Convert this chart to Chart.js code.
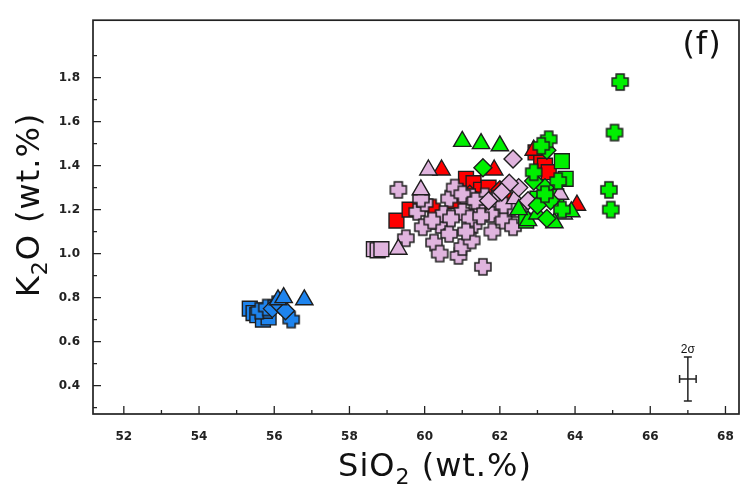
<!DOCTYPE html>
<html>
<head>
<meta charset="utf-8">
<script src="https://cdn.jsdelivr.net/npm/chart.js@4.4.0/dist/chart.umd.min.js"></script>
<style>
  html, body { margin: 0; padding: 0; background: #fff; }
  canvas { display: block; }
</style>
</head>
<body>
<canvas id="chart" width="753" height="492"></canvas>
<script>
// K2O vs SiO2, panel (f)

// tick values
const xTicks = [52, 54, 56, 58, 60, 62, 64, 66, 68];
const yTicks = [0.4, 0.6, 0.8, 1.0, 1.2, 1.4, 1.6, 1.8];

// [SiO2, K2O] points, one list per group and symbol
const blueSquares   = [[55.35, 0.75], [55.45, 0.73], [55.55, 0.72], [55.7, 0.70], [55.85, 0.71], [55.75, 0.74]];
const blueCrosses   = [[55.6, 0.74], [55.8, 0.755], [56.05, 0.77], [56.45, 0.70]];
const blueDiamonds  = [[55.95, 0.75], [56.15, 0.765], [56.3, 0.74]];
const blueTriangles = [[56.1, 0.79], [56.25, 0.80], [56.8, 0.79]];

const redSquares   = [[59.25, 1.15], [59.6, 1.20], [61.1, 1.34], [61.3, 1.32], [61.5, 1.29], [60.8, 1.24],
                      [61.7, 1.30], [62.95, 1.46], [63.1, 1.43], [63.2, 1.40], [63.3, 1.37]];
const redTriangles = [[60.45, 1.38], [61.85, 1.38], [64.05, 1.22], [62.9, 1.47]];
const redCrosses   = [[60.2, 1.21], [60.9, 1.28], [61.6, 1.21], [62.2, 1.25]];
const redDiamonds  = [[62.0, 1.29], [61.2, 1.27]];

const greenSquares   = [[63.65, 1.42], [63.75, 1.34], [62.7, 1.15], [63.5, 1.26], [63.0, 1.25]];
const greenTriangles = [[61.0, 1.51], [61.5, 1.50], [62.0, 1.49], [62.75, 1.15], [63.45, 1.14],
                        [63.0, 1.18], [62.5, 1.20], [63.9, 1.19]];
const greenDiamonds  = [[61.55, 1.39], [63.25, 1.47], [63.2, 1.30], [63.35, 1.24], [63.25, 1.16],
                        [62.9, 1.33], [63.0, 1.22]];
const greenCrosses   = [[65.2, 1.78], [65.05, 1.55], [64.9, 1.29], [64.95, 1.20], [63.3, 1.52],
                        [63.1, 1.49], [62.9, 1.37], [63.55, 1.33], [63.65, 1.20], [63.2, 1.27]];

const pinkSquares   = [[58.65, 1.02], [58.75, 1.015], [58.85, 1.02], [61.15, 1.26], [62.5, 1.20]];
const pinkTriangles = [[60.1, 1.38], [59.9, 1.29], [59.3, 1.02], [63.6, 1.27], [63.7, 1.18], [62.4, 1.25]];
const pinkCrosses   = [[59.3, 1.29], [59.8, 1.19], [59.95, 1.12], [59.5, 1.07], [60.4, 1.13],
                       [60.65, 1.09], [60.25, 1.05], [60.9, 0.99], [61.0, 1.03], [60.65, 1.25],
                       [60.8, 1.30], [61.0, 1.19], [61.3, 1.13], [61.25, 1.06], [61.55, 0.94],
                       [61.4, 1.22], [61.75, 1.18], [62.3, 1.21], [60.0, 1.23], [61.2, 1.16],
                       [60.5, 1.18], [61.8, 1.10], [60.4, 1.00], [61.6, 1.26], [62.1, 1.15],
                       [61.0, 1.27], [61.35, 1.24], [61.9, 1.25], [62.1, 1.22], [61.5, 1.17],
                       [60.2, 1.15], [59.9, 1.25], [61.1, 1.10], [60.7, 1.16], [62.35, 1.12]];
const pinkDiamonds  = [[62.35, 1.43], [62.5, 1.30], [62.25, 1.32], [62.75, 1.24], [62.05, 1.28],
                       [61.7, 1.24]];

// 2 sigma error bar
const errX = 67.0, errY = 0.43, errDx = 0.22, errDy = 0.10;

const BLUE = '#1e84ee', RED = '#ff0000', GREEN = '#00f000', PINK = '#e0b4de';
const EDGE = '#1e1e1e';
const TITLE_FONT = '32px "DejaVu Sans", sans-serif';
const SUB_FONT = '22px "DejaVu Sans", sans-serif';
const TICK_FONT = { family: '"DejaVu Sans", sans-serif', size: 12, weight: 'bold' };

function makePlus(fill, size) {
  const c = document.createElement('canvas');
  const s = size + 4;
  c.width = s; c.height = s;
  const g = c.getContext('2d');
  const m = s / 2, h = size / 2, a = size * 0.25;
  g.beginPath();
  g.moveTo(m - a, m - h); g.lineTo(m + a, m - h); g.lineTo(m + a, m - a);
  g.lineTo(m + h, m - a); g.lineTo(m + h, m + a); g.lineTo(m + a, m + a);
  g.lineTo(m + a, m + h); g.lineTo(m - a, m + h); g.lineTo(m - a, m + a);
  g.lineTo(m - h, m + a); g.lineTo(m - h, m - a); g.lineTo(m - a, m - a);
  g.closePath();
  g.fillStyle = fill; g.fill();
  g.lineWidth = 1.5; g.strokeStyle = EDGE; g.stroke();
  return c;
}

function ds(label, pts, color, style) {
  const radius = { rect: 10.5, triangle: 10, rectRot: 9 }[style] || 9;
  return {
    label: label,
    data: pts.map(p => ({ x: p[0], y: p[1] })),
    pointStyle: style === 'plus' ? makePlus(color, 16) : style,
    pointRadius: radius,
    pointHoverRadius: radius,
    backgroundColor: color,
    borderColor: EDGE,
    borderWidth: 1.4
  };
}

const frameAndTicks = {
  id: 'frameAndTicks',
  afterDatasetsDraw(chart) {
    const { ctx, chartArea: a, scales: { x, y } } = chart;
    ctx.save();
    ctx.strokeStyle = '#222';
    ctx.lineWidth = 1.3;
    ctx.beginPath();
    for (let v = 52; v <= 68; v++) {
      const px = x.getPixelForValue(v);
      const len = v % 2 === 0 ? 8 : 4;
      ctx.moveTo(px, a.bottom); ctx.lineTo(px, a.bottom - len);
    }
    for (let i = 3; i <= 19; i++) {
      const py = y.getPixelForValue(i / 10);
      const len = i % 2 === 0 ? 8 : 4;
      ctx.moveTo(a.left, py); ctx.lineTo(a.left + len, py);
    }
    ctx.stroke();
    ctx.lineWidth = 1.7;
    ctx.strokeRect(a.left, a.top, a.right - a.left, a.bottom - a.top);

    // error bar
    const cx = x.getPixelForValue(errX), cy = y.getPixelForValue(errY);
    const x0 = x.getPixelForValue(errX - errDx), x1 = x.getPixelForValue(errX + errDx);
    const y0 = y.getPixelForValue(errY + errDy), y1 = y.getPixelForValue(errY - errDy);
    ctx.lineWidth = 1.5;
    ctx.beginPath();
    ctx.moveTo(cx, y0); ctx.lineTo(cx, y1);
    ctx.moveTo(cx - 4, y0); ctx.lineTo(cx + 4, y0);
    ctx.moveTo(cx - 4, y1); ctx.lineTo(cx + 4, y1);
    ctx.moveTo(x0, cy); ctx.lineTo(x1, cy);
    ctx.moveTo(x0, cy - 4); ctx.lineTo(x0, cy + 4);
    ctx.moveTo(x1, cy - 4); ctx.lineTo(x1, cy + 4);
    ctx.stroke();
    ctx.fillStyle = '#111';
    ctx.font = '12px "Liberation Sans", Arial, sans-serif';
    ctx.textAlign = 'center';
    ctx.textBaseline = 'bottom';
    ctx.fillText('2σ', cx, y0 - 1);

    // panel label
    ctx.letterSpacing = '1px';
    ctx.font = TITLE_FONT;
    ctx.textBaseline = 'middle';
    ctx.fillText('(f)', 702, 46);

    // axis titles with subscripts
    function titled(parts, cxp, cyp) {
      ctx.textAlign = 'left';
      ctx.textBaseline = 'alphabetic';
      let w = 0;
      parts.forEach(p => { ctx.font = p.sub ? SUB_FONT : TITLE_FONT; w += ctx.measureText(p.t).width; });
      let px = cxp - w / 2;
      parts.forEach(p => {
        ctx.font = p.sub ? SUB_FONT : TITLE_FONT;
        ctx.fillText(p.t, px, cyp + (p.sub ? 8 : 0));
        px += ctx.measureText(p.t).width;
      });
    }
    titled([{ t: 'SiO' }, { t: '2', sub: true }, { t: ' (wt.%)' }], 435, 476);
    ctx.save();
    ctx.translate(39, 205);
    ctx.rotate(-Math.PI / 2);
    titled([{ t: 'K' }, { t: '2', sub: true }, { t: 'O (wt.%)' }], 0, 0);
    ctx.restore();
    ctx.restore();
  }
};

// Chart.js paints dataset 0 last, so the top layer comes first here
new Chart(document.getElementById('chart').getContext('2d'), {
  type: 'scatter',
  data: {
    datasets: [
      ds('blue triangles', blueTriangles, BLUE, 'triangle'),
      ds('blue diamonds', blueDiamonds, BLUE, 'rectRot'),
      ds('blue crosses', blueCrosses, BLUE, 'plus'),
      ds('blue squares', blueSquares, BLUE, 'rect'),
      ds('green crosses', greenCrosses, GREEN, 'plus'),
      ds('green diamonds', greenDiamonds, GREEN, 'rectRot'),
      ds('green triangles', greenTriangles, GREEN, 'triangle'),
      ds('pink diamonds', pinkDiamonds, PINK, 'rectRot'),
      ds('pink triangles', pinkTriangles, PINK, 'triangle'),
      ds('green squares', greenSquares, GREEN, 'rect'),
      ds('pink crosses', pinkCrosses, PINK, 'plus'),
      ds('pink squares', pinkSquares, PINK, 'rect'),
      ds('red diamonds', redDiamonds, RED, 'rectRot'),
      ds('red crosses', redCrosses, RED, 'plus'),
      ds('red triangles', redTriangles, RED, 'triangle'),
      ds('red squares', redSquares, RED, 'rect')
    ]
  },
  options: {
    responsive: false,
    devicePixelRatio: 1,
    animation: false,
    layout: { padding: { top: 11, right: 14, left: 0, bottom: 0 } },
    plugins: { legend: { display: false }, tooltip: { enabled: false } },
    scales: {
      x: {
        type: 'linear', min: 51.18, max: 68.36,
        afterBuildTicks: s => { s.ticks = xTicks.map(v => ({ value: v })); },
        afterFit: s => { s.height = 78; },
        grid: { display: false, drawTicks: false },
        border: { display: false },
        ticks: { padding: 16, color: '#222', font: TICK_FONT }
      },
      y: {
        type: 'linear', min: 0.271, max: 2.061,
        afterBuildTicks: s => { s.ticks = yTicks.map(v => ({ value: v })); },
        afterFit: s => { s.width = 93; },
        grid: { display: false, drawTicks: false },
        border: { display: false },
        ticks: { padding: 13, color: '#222', callback: v => v.toFixed(1), font: TICK_FONT }
      }
    }
  },
  plugins: [frameAndTicks]
});
</script>
</body>
</html>
